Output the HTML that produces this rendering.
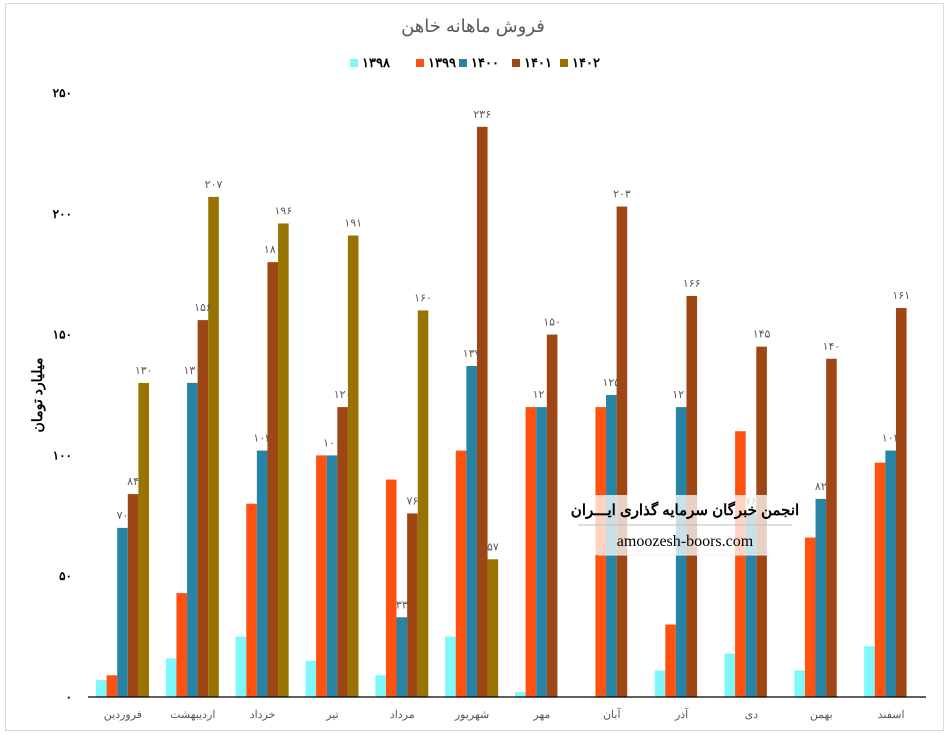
<!DOCTYPE html>
<html><head><meta charset="utf-8">
<style>
body{margin:0;background:#fff;font-family:"Liberation Sans","Noto Sans CJK SC",sans-serif;}
#wrap{position:relative;width:949px;height:736px;overflow:hidden;}
</style></head>
<body>
<div id="wrap">
<svg id="chart" width="949" height="736" xmlns="http://www.w3.org/2000/svg">
<rect x="5.5" y="3.5" width="938" height="727" fill="#fff" stroke="#d9d9d9"/>
<text x="473" y="32" text-anchor="middle" font-size="18" fill="#595959">فروش ماهانه خاهن</text>
<text transform="translate(42,395) rotate(-90)" text-anchor="middle" font-size="14" font-weight="bold" fill="#000">میلیارد تومان</text>
<g id="legend"></g>
<g id="yticks"></g>
<g id="bars"></g>
<g id="labels"></g>
<g id="xlabels"></g>
<line x1="88" y1="697" x2="926" y2="697" stroke="#000" stroke-width="1.2"/>
<g>
<rect x="578" y="495" width="215" height="60" fill="#fff" opacity="0.75"/>
<text x="685" y="515" text-anchor="middle" font-size="15" font-weight="bold" fill="#000">انجمن خبرگان سرمایه گذاری ایـــران</text>
<line x1="578" y1="525" x2="792" y2="525" stroke="#bbb"/>
<text x="685" y="546" text-anchor="middle" font-size="16" font-family="Liberation Serif,serif" fill="#000">amoozesh-boors.com</text>
<line x1="598" y1="555" x2="770" y2="555" stroke="#eee"/>
</g>
</svg>
</div>
<script>
const categories=["فروردین","اردیبهشت","خرداد","تیر","مرداد","شهریور","مهر","آبان","آذر","دی","بهمن","اسفند"];
const seriesNames=["1398","1399","1400","1401","1402"];
const s1398=[7,16,25,15,9,25,2,0,11,18,11,21];
const s1399=[9,43,80,100,90,102,120,120,30,110,66,97];
const s1400=[70,130,102,100,33,137,120,125,120,76,82,102];
const s1401=[84,156,180,120,76,236,150,203,166,145,140,161];
const s1402=[130,207,196,191,160,57,null,null,null,null,null,null];
const yTicks=[0,50,100,150,200,250];
const colors=["#7ff8fb","#ff5210","#2784a4","#9e4714","#997300"];
const showLabel=[false,false,true,true,true];
const series=[s1398,s1399,s1400,s1401,s1402];
const NS="http://www.w3.org/2000/svg";
const x0=88,x1=926,y0=697,yTop=93,yMax=250;
const cw=(x1-x0)/categories.length,bw=10.6,gOff=8;
function y(v){return y0-(v/yMax)*(y0-yTop);}
function fa(n){return String(n).replace(/\d/g,d=>"۰۱۲۳۴۵۶۷۸۹"[d]);}
function mk(tag,attrs,parent){const e=document.createElementNS(NS,tag);for(const k in attrs)e.setAttribute(k,attrs[k]);parent.appendChild(e);return e;}
const yt=document.getElementById('yticks');
yTicks.forEach(t=>{const e=mk('text',{x:72,y:y(t)+4,'text-anchor':'end','font-size':12,'font-weight':'bold',fill:'#000'},yt);e.textContent=fa(t);

});
const bg=document.getElementById('bars'),lg=document.getElementById('labels'),xg=document.getElementById('xlabels');
categories.forEach((c,i)=>{
 const gx=x0+i*cw+gOff;
 series.forEach((s,j)=>{
  const v=s[i]; if(v===null||v===undefined)return;
  const bx=gx+j*bw;
  const r=mk('rect',{x:bx,y:y(v),width:bw,height:y0-y(v),fill:colors[j]},bg);
  
  
  if(showLabel[j]&&v>0){const t=mk('text',{x:bx+bw/2,y:y(v)-9,'text-anchor':'middle','font-size':11,fill:'#595959'},lg);t.textContent=fa(v);
  
  }
 });
 const t=mk('text',{x:x0+i*cw+cw/2,y:718,'text-anchor':'middle','font-size':11,fill:'#595959'},xg);t.textContent=c;
 
 
});
const lgd=document.getElementById('legend');
const lx=[352,418,461,514,562];
seriesNames.forEach((n,j)=>{
 const r=mk('rect',{x:lx[j]-2,y:59,width:8,height:8,fill:colors[j]},lgd);
 
 
 const t=mk('text',{x:lx[j]+10,y:67,'font-size':13,'font-weight':'bold',fill:'#000'},lgd);t.textContent=fa(n);
 
 
});
</script>
</body></html>
